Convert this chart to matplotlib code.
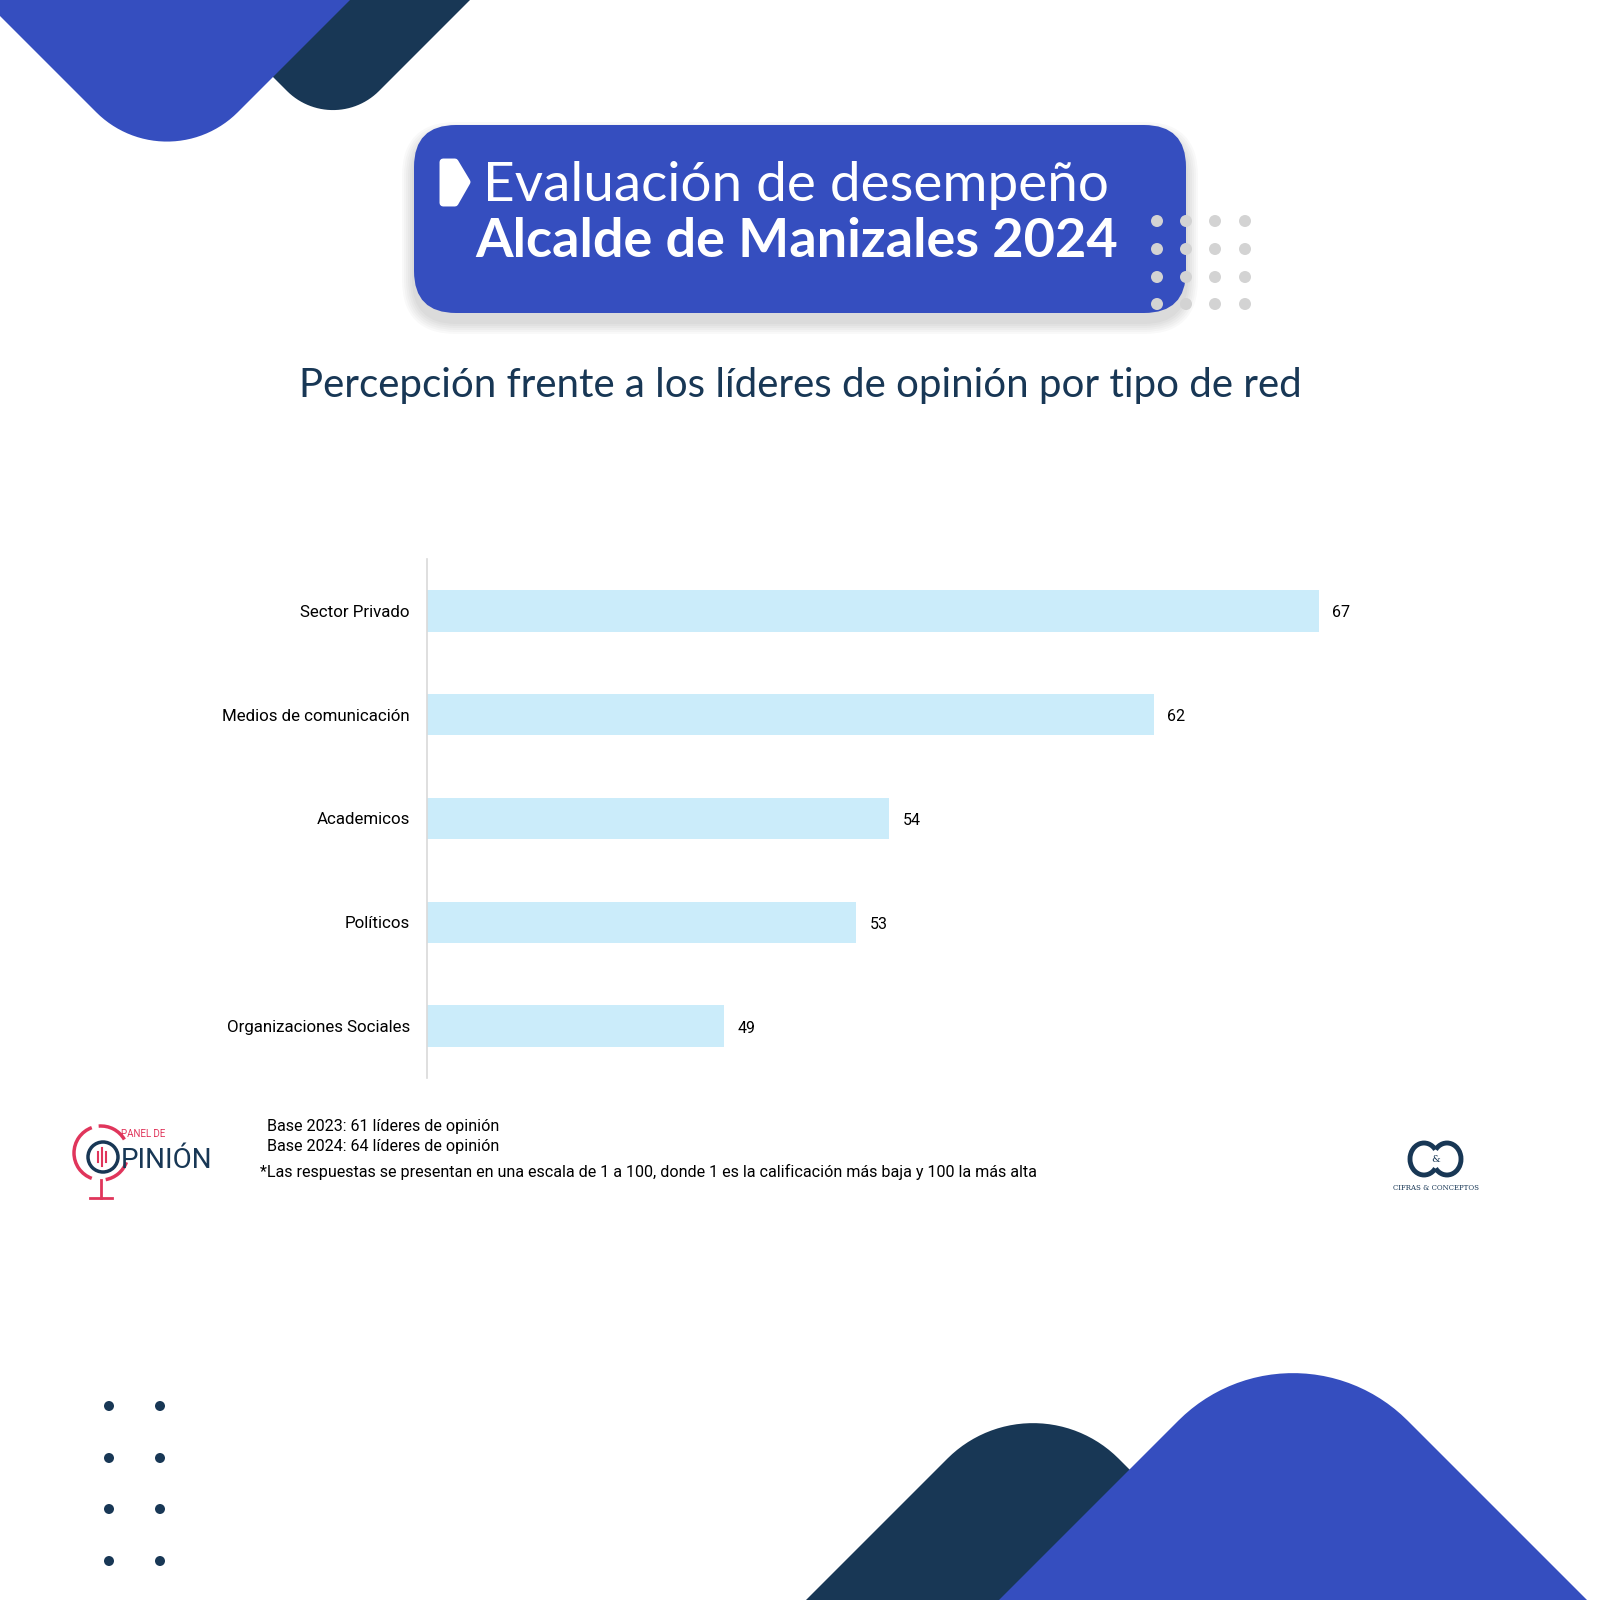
import numpy as np
import matplotlib.pyplot as plt
from matplotlib.patches import FancyBboxPatch, Polygon, Circle, Arc

categories = ['Sector Privado', 'Medios de comunicación', 'Academicos',
              'Políticos', 'Organizaciones Sociales']
values = [67, 62, 54, 53, 49]

title_1 = 'Evaluación de desempeño'
title_2 = 'Alcalde de Manizales 2024'
subtitle = 'Percepción frente a los líderes de opinión por tipo de red'
notes = ['Base 2023: 61 líderes de opinión',
         'Base 2024: 64 líderes de opinión']
footnote = ('*Las respuestas se presentan en una escala de 1 a 100, donde 1 es '
            'la calificación más baja y 100 la más alta')

BLUE = '#354EBF'
NAVY = '#183755'
BAR = '#CBECFA'
GREY_DOT = '#D3D3D3'
PINK = '#E0355B'

plt.rcParams['font.family'] = ['Roboto', 'DejaVu Sans']

fig = plt.figure(figsize=(16, 16), dpi=100)

# --- background layer in pixel coords (y down) ---
bg = fig.add_axes([0, 0, 1, 1])
bg.set_xlim(0, 1600)
bg.set_ylim(1600, 0)
bg.axis('off')


def diamond(vx, vy, r, h, up=False):
    # square rotated 45 deg with rounded corners, sharp vertex at (vx, vy)
    pts = []
    for sx, sy, a0 in [(1, 1, 0), (-1, 1, 90), (-1, -1, 180), (1, -1, 270)]:
        t = np.radians(np.linspace(a0, a0 + 90, 30))
        pts += list(zip(sx * (h - r) + r * np.cos(t), sy * (h - r) + r * np.sin(t)))
    p = np.array(pts)
    x = (p[:, 0] - p[:, 1]) / np.sqrt(2)
    y = (p[:, 0] + p[:, 1]) / np.sqrt(2)
    cy = vy + h * np.sqrt(2) if up else vy - h * np.sqrt(2)
    return np.column_stack([x + vx, y + cy])


# corner shapes
bg.add_patch(Polygon(diamond(333, 137, 65, 420), color=NAVY, lw=0))
bg.add_patch(Polygon(diamond(167, 183, 100, 420), color=BLUE, lw=0))
bg.add_patch(Polygon(diamond(1033, 1373, 121, 520, up=True), color=NAVY, lw=0))
bg.add_patch(Polygon(diamond(1293, 1306, 162, 520, up=True), color=BLUE, lw=0))

# bottom-left dots
for dx in [109, 160]:
    for dy in [1406, 1458, 1509, 1561]:
        bg.add_patch(Circle((dx, dy), 5, color=NAVY, lw=0))

# --- title box with soft shadow ---
for i in range(6):
    g = 12 - 2 * i
    bg.add_patch(FancyBboxPatch((414 - g, 125 - g + 9), 772 + 2 * g, 188 + 2 * g,
                                boxstyle='round,pad=0,rounding_size=%d' % (42 + g),
                                color='black', alpha=0.025, lw=0))
bg.add_patch(FancyBboxPatch((414, 125), 772, 188,
                            boxstyle='round,pad=0,rounding_size=42',
                            color=BLUE, lw=0))
bg.add_patch(Polygon([(443, 162), (455, 162), (467, 182), (455, 203), (443, 203)],
                     closed=True, facecolor='white', edgecolor='white',
                     lw=5, joinstyle='round'))
for dx in [1157, 1186, 1215, 1245]:
    for dy in [221, 249, 277, 304]:
        bg.add_patch(Circle((dx, dy), 6, color=GREY_DOT, lw=0))

bg.text(483, 201, title_1, color='white', fontsize=39.5, fontweight='normal',
        family=['Lato', 'DejaVu Sans'], va='baseline', ha='left')
bg.text(475, 257, title_2, color='white', fontsize=39, fontweight='bold',
        family=['Lato', 'DejaVu Sans'], va='baseline', ha='left')

bg.text(800, 397, subtitle, color=NAVY, fontsize=29,
        family=['Lato', 'DejaVu Sans'], va='baseline', ha='center')

# --- footer notes ---
bg.text(267, 1131, notes[0], fontsize=11.6, va='baseline')
bg.text(267, 1151, notes[1], fontsize=11.6, va='baseline')
bg.text(260, 1177, footnote, fontsize=11.6, va='baseline')

# Panel de Opinion logo
bg.add_patch(Arc((101, 1153), 54, 54, theta1=110, theta2=250, color=PINK, lw=2.5))
bg.add_patch(Arc((101, 1153), 54, 54, theta1=265, theta2=330, color=PINK, lw=2.5))
bg.add_patch(Arc((101, 1153), 54, 54, theta1=20, theta2=80, color=PINK, lw=2.5))
bg.add_patch(Circle((103, 1157), 15, facecolor='none', edgecolor=NAVY, lw=2.5))
for wx, wh in [(98, 5), (102, 9), (106, 5)]:
    bg.plot([wx, wx], [1157 - wh, 1157 + wh], color=PINK, lw=1.5)
bg.plot([101, 101], [1180, 1198], color=PINK, lw=2)
bg.plot([90, 112], [1198, 1198], color=PINK, lw=2)
bg.text(121, 1137, 'PANEL DE', color=PINK, fontsize=7, va='baseline')
bg.text(121, 1168, 'PINIÓN', color=NAVY, fontsize=20, va='baseline')

# Cifras & Conceptos logo
bg.add_patch(Arc((1424, 1159), 28, 32, theta1=40, theta2=320, color=NAVY, lw=3.5))
bg.add_patch(Arc((1447, 1159), 28, 32, theta1=-140, theta2=140, color=NAVY, lw=3.5))
bg.text(1436, 1159, '&', color=NAVY, fontsize=7, ha='center', va='center',
        family='DejaVu Serif')
bg.text(1436, 1190, 'CIFRAS & CONCEPTOS', color=NAVY, fontsize=5,
        ha='center', va='baseline', family='DejaVu Serif')

# --- bar chart ---
ax = fig.add_axes([0.2666, 0.32625, 0.6168, 0.3244])
ax.patch.set_alpha(0)
y = np.arange(len(categories))
ax.barh(y, values, height=0.4, color=BAR)
ax.set_xlim(40, 69.85)
ax.set_ylim(4.5, -0.5)
ax.set_yticks(y, categories)
ax.set_xticks([])
ax.tick_params(axis='y', length=0, pad=12, labelsize=12.2)
for s in ['top', 'right', 'bottom']:
    ax.spines[s].set_visible(False)
ax.spines['left'].set_color('#D9D9D9')
ax.spines['left'].set_linewidth(1.2)
for yi, v in zip(y, values):
    ax.text(v + 0.4, yi + 0.02, str(v), va='center', fontsize=11.5)

fig.savefig('out.png', dpi=100)
